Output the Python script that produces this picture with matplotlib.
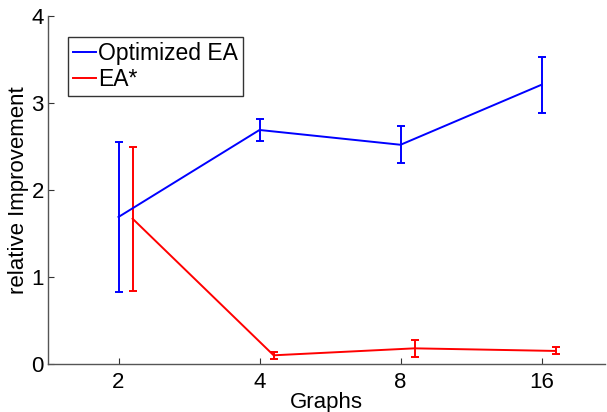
import matplotlib
matplotlib.use("Agg")
import matplotlib.pyplot as plt
from matplotlib.lines import Line2D
import numpy as np

plt.rcParams['font.family'] = ['Liberation Sans', 'DejaVu Sans']

# -------------------------------------------------------------
# Data
# -------------------------------------------------------------
graphs = ["2", "4", "8", "16"]
opt_mean = [1.69, 2.69, 2.52, 3.21]
opt_err = [0.86, 0.13, 0.21, 0.32]
ea_mean = [1.67, 0.10, 0.18, 0.15]
ea_err = [0.83, 0.04, 0.10, 0.04]

x = np.arange(1, len(graphs) + 1)

# -------------------------------------------------------------
# Plot
# -------------------------------------------------------------
fig = plt.figure(figsize=(6.07, 4.12), dpi=100)
ax = fig.add_axes([48/607, 1 - 364/412, (605-48)/607, (364-16)/412])

blue, red = "#0000ff", "#ff0000"
ax.errorbar(x, opt_mean, yerr=opt_err, color=blue, lw=1.4,
            capsize=3, capthick=1.4, elinewidth=1.4)
ax.errorbar(x + 0.1, ea_mean, yerr=ea_err, color=red, lw=1.4,
            capsize=3, capthick=1.4, elinewidth=1.4)

ax.set_xlim(0.5, 4.45)
ax.set_ylim(0, 4)
ax.set_xticks(x)
ax.set_xticklabels(graphs)
ax.set_yticks([0, 1, 2, 3, 4])

for s in ["top", "right"]:
    ax.spines[s].set_visible(False)
for s in ["left", "bottom"]:
    ax.spines[s].set_color("#555555")
    ax.spines[s].set_linewidth(1.0)
ax.tick_params(direction="in", length=4, width=0.8, color="#333333",
               labelsize=16)
ax.tick_params(axis="x", pad=6)
ax.tick_params(axis="y", pad=3)

ax.set_xlabel("Graphs", fontsize=16, labelpad=-1)
ax.set_ylabel("relative Improvement", fontsize=16, labelpad=2)

handles = [Line2D([], [], color=blue, lw=1.4), Line2D([], [], color=red, lw=1.4)]
leg = ax.legend(handles, ["Optimized EA", "EA*"], loc="upper left",
                bbox_to_anchor=(0.036, 0.94), fontsize=16.5,
                frameon=True, fancybox=False, handlelength=1.0,
                handletextpad=0.1, borderpad=0.22, labelspacing=0.15,
                borderaxespad=0)
leg.get_frame().set_edgecolor("black")
leg.get_frame().set_linewidth(1.0)

fig.savefig("out.png", dpi=100)
